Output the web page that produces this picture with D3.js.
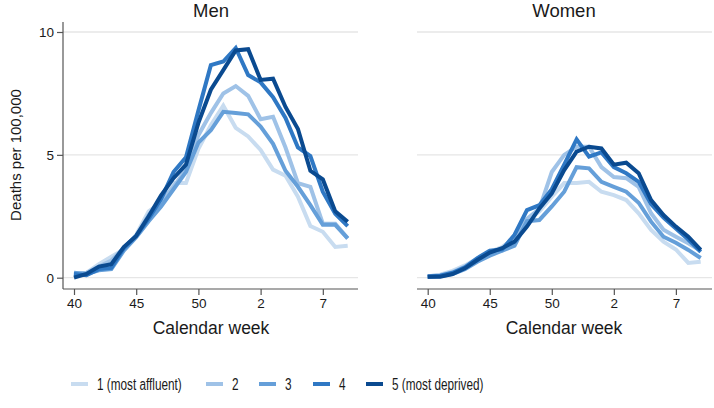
<!DOCTYPE html>
<html><head><meta charset="utf-8">
<script src="https://cdn.jsdelivr.net/npm/d3@7"></script>
<style>body{margin:0;background:#fff}svg{display:block}text{font-family:"Liberation Sans",Arial,sans-serif;fill:#1a1a1a}</style>
</head><body><svg id="c" width="714" height="408"></svg>
<script>
const weeks = ["40","41","42","43","44","45","46","47","48","49","50","51","52","53","1","2","3","4","5","6","7","8","9"];
const tickWeeks = ["40","45","50","2","7"];
const yTicks = [0,5,10];
const groups = ["1 (most affluent)","2","3","4","5 (most deprived)"];
const colors = ["#c8dcf0","#9fc2e7","#659fd9","#2f78c4","#0a4a90"];
const panels = ["Men","Women"];

const men1 = [0.1,0.2,0.55,0.85,1.15,1.75,2.7,3.05,3.85,3.85,5.25,6.2,7.0,6.1,5.75,5.2,4.4,4.15,3.3,2.1,1.87,1.25,1.3];
const men2 = [0.15,0.2,0.45,0.7,1.2,1.7,2.55,3.1,3.7,4.4,5.8,6.7,7.5,7.8,7.4,6.45,6.55,5.3,3.85,3.7,2.2,2.2,1.6];
const men3 = [0.2,0.15,0.3,0.35,1.1,1.65,2.3,2.9,3.6,4.3,5.5,6.0,6.75,6.7,6.65,6.15,5.45,4.35,3.7,2.95,2.15,2.15,1.6];
const men4 = [0.15,0.1,0.35,0.4,1.2,1.7,2.4,3.2,4.3,4.9,6.8,8.65,8.8,9.35,8.25,7.95,7.35,6.5,5.3,4.95,3.5,2.6,2.1];
const men5 = [0.0,0.15,0.45,0.55,1.25,1.7,2.5,3.35,4.05,4.6,6.3,7.65,8.45,9.25,9.3,8.05,8.1,6.95,6.05,4.35,4.0,2.7,2.28];

const women1 = [0.05,0.12,0.28,0.5,0.78,1.05,1.25,1.6,2.3,2.7,3.3,3.85,3.85,3.9,3.5,3.36,3.16,2.62,1.94,1.47,1.15,0.6,0.65];
const women2 = [0.06,0.1,0.22,0.45,0.75,1.05,1.1,1.6,2.4,2.8,4.3,5.0,5.33,5.33,4.5,4.1,4.05,3.7,2.62,1.95,1.67,1.4,1.1];
const women3 = [0.03,0.06,0.15,0.35,0.65,0.9,1.1,1.3,2.3,2.35,2.9,3.5,4.5,4.45,3.9,3.7,3.5,3.05,2.28,1.67,1.42,1.13,0.8];
const women4 = [0.05,0.08,0.2,0.42,0.8,1.1,1.15,1.75,2.75,2.95,3.6,4.6,5.63,4.93,5.1,4.5,4.25,3.9,3.0,2.45,2.0,1.55,1.05];
const women5 = [0.04,0.04,0.15,0.38,0.72,1.02,1.2,1.47,2.08,2.82,3.43,4.38,5.13,5.33,5.26,4.6,4.68,4.25,3.16,2.55,2.08,1.67,1.13];

const series = {Men:[men1,men2,men3,men4,men5], Women:[women1,women2,women3,women4,women5]};

const svg = d3.select("#c");
const y = d3.scaleLinear().domain([0,10]).range([277.7,32]);
const layout = {
  Men:   {left:63, right:358, x0:74, x1:347.7, yAxis:true, cx:211},
  Women: {left:417, right:712, x0:427.7, x1:700.7, yAxis:false, cx:564}
};
const axisY = 289;

panels.forEach(p=>{
  const L = layout[p];
  const x = d3.scalePoint().domain(weeks).range([L.x0,L.x1]).padding(0);
  const g = svg.append("g");
  g.selectAll("line.grid").data(yTicks).enter().append("line")
    .attr("x1",L.left).attr("x2",L.right)
    .attr("y1",d=>y(d)).attr("y2",d=>y(d))
    .attr("stroke","#e6e6e6").attr("stroke-width",1.3);
  const xa = g.append("g").attr("transform",`translate(0,${axisY})`)
    .call(d3.axisBottom(x).tickValues(tickWeeks).tickSize(6).tickPadding(3));
  xa.select(".domain").attr("d",`M${L.left},0H${L.right}`).attr("stroke","#555").attr("stroke-width",1.2);
  xa.selectAll(".tick line").attr("stroke","#555").attr("stroke-width",1.2);
  xa.selectAll(".tick text").attr("font-size",13.5).attr("fill","#1a1a1a").attr("font-family","Liberation Sans, Arial, sans-serif");
  if(L.yAxis){
    const ya = g.append("g").attr("transform",`translate(${L.left},0)`)
      .call(d3.axisLeft(y).tickValues(yTicks).tickSize(6).tickPadding(3));
    ya.select(".domain").attr("d",`M0,22V${axisY}`).attr("stroke","#555").attr("stroke-width",1.2);
    ya.selectAll(".tick line").attr("stroke","#555").attr("stroke-width",1.2);
    ya.selectAll(".tick text").attr("font-size",13.5).attr("fill","#1a1a1a").attr("font-family","Liberation Sans, Arial, sans-serif");
  }
  const line = d3.line().x((d,i)=>x(weeks[i])).y(d=>y(d));
  series[p].forEach((s,k)=>{
    g.append("path").datum(s).attr("d",line).attr("fill","none")
      .attr("stroke",colors[k]).attr("stroke-width",4)
      .attr("stroke-linejoin","miter").attr("stroke-miterlimit",2);
  });
  g.append("text").attr("x",L.cx).attr("y",16.5).attr("text-anchor","middle")
    .attr("font-size",18.5).text(p);
  g.append("text").attr("x",L.cx).attr("y",334).attr("text-anchor","middle")
    .attr("font-size",17.5).text("Calendar week");
});

svg.append("text").attr("transform","translate(21,155) rotate(-90)")
  .attr("text-anchor","middle").attr("font-size",15).text("Deaths per 100,000");

// legend
const legX = [71,206,259,313,366];
const lg = svg.append("g");
groups.forEach((gname,k)=>{
  lg.append("line").attr("x1",legX[k]).attr("x2",legX[k]+17).attr("y1",384).attr("y2",384)
    .attr("stroke",colors[k]).attr("stroke-width",4);
  lg.append("text").attr("transform",`translate(${legX[k]+26},390) scale(0.735,1)`)
    .attr("font-size",16).text(gname);
});
</script></body></html>
